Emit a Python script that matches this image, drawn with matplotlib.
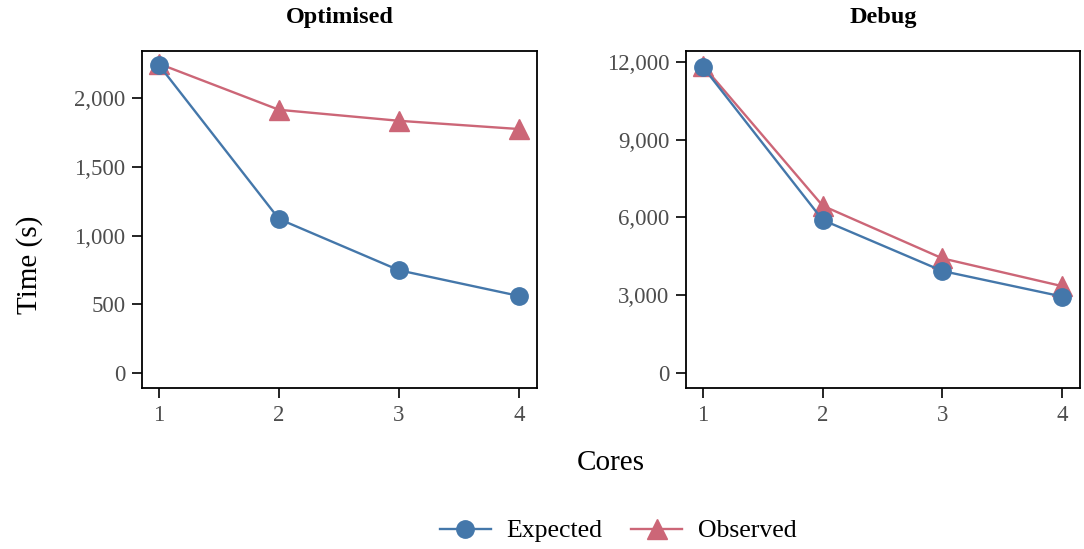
import matplotlib
matplotlib.use("Agg")
import matplotlib.pyplot as plt
from matplotlib.ticker import FuncFormatter, FixedLocator

plt.rcParams['font.family'] = ['Liberation Serif', 'DejaVu Serif']

cores = [1, 2, 3, 4]

# Optimised build timings (s)
opt_expected = [2240, 1120, 747, 560]
opt_observed = [2250, 1915, 1835, 1775]

# Debug build timings (s)
dbg_expected = [11800, 5900, 3933, 2950]
dbg_observed = [11850, 6450, 4420, 3350]

opt_ticks = [0, 500, 1000, 1500, 2000]
dbg_ticks = [0, 3000, 6000, 9000, 12000]

blue = '#4477AA'
red = '#CC6677'
tick_grey = '#4d4d4d'

fig = plt.figure(figsize=(10.84, 5.49), dpi=100)
ax1 = fig.add_axes([142 / 1084, 1 - 388 / 549, (537 - 142) / 1084, (388 - 51) / 549])
ax2 = fig.add_axes([686 / 1084, 1 - 388 / 549, (1080 - 686) / 1084, (388 - 51) / 549])

comma = FuncFormatter(lambda v, p: f"{int(v):,}")

panels = [
    (ax1, 'Optimised', opt_expected, opt_observed, opt_ticks, (-110, 2343)),
    (ax2, 'Debug', dbg_expected, dbg_observed, dbg_ticks, (-578, 12416)),
]

for ax, title, exp, obs, ticks, ylim in panels:
    ax.plot(cores, obs, color=red, lw=1.7, marker='^', ms=15, label='Observed', zorder=2)
    ax.plot(cores, exp, color=blue, lw=1.7, marker='o', ms=12.5, label='Expected', zorder=3)
    ax.set_xlim(0.858, 4.15)
    ax.set_ylim(*ylim)
    ax.xaxis.set_major_locator(FixedLocator(cores))
    ax.yaxis.set_major_locator(FixedLocator(ticks))
    ax.yaxis.set_major_formatter(comma)
    ax.tick_params(direction='out', length=7, width=1.2, labelsize=16.5,
                   labelcolor=tick_grey, top=False, right=False, pad=5)
    for s in ax.spines.values():
        s.set_linewidth(1.3)
        s.set_color('black')
    x0, x1 = ax.get_position().x0, ax.get_position().x1
    fig.text((x0 + x1) / 2, 1 - 18 / 549, title, fontsize=17.5, fontweight='bold',
             ha='center', va='center')

fig.text(30 / 1084, 1 - 265 / 549, 'Time (s)', fontsize=21, rotation=90,
         ha='center', va='center')
fig.text(611 / 1084, 1 - 463 / 549, 'Cores', fontsize=21, ha='center', va='center')

handles, labels = ax1.get_legend_handles_labels()
order = [1, 0]
fig.legend([handles[i] for i in order], [labels[i] for i in order],
           loc='center', bbox_to_anchor=(618 / 1084, 1 - 531 / 549), ncol=2,
           frameon=False, fontsize=18.5, handlelength=2.0, columnspacing=1.1,
           handletextpad=0.6)

fig.savefig('out.png', dpi=100)
